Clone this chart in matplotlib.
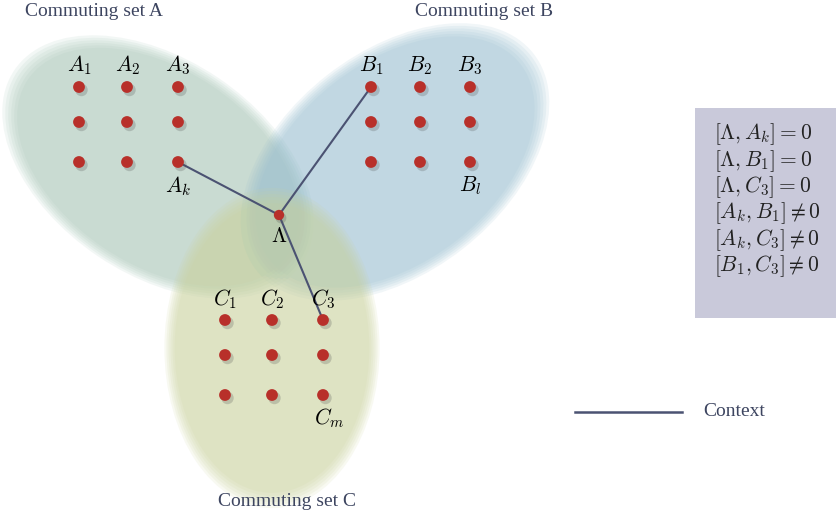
import matplotlib.pyplot as plt
import numpy as np
from matplotlib.patches import Ellipse, Rectangle

plt.rcParams['mathtext.fontset'] = 'cm'
serif = ['Liberation Serif', 'DejaVu Serif']

# dot grids of the three commuting sets (pixel coords, y down)
a_x = [79, 127, 178]
a_y = [87, 122, 162]
b_x = [371, 420, 470]
b_y = [87, 122, 162]
c_x = [225, 272, 323]
c_y = [320, 355, 395]
lam = (279, 215)

a_labels = ['$A_1$', '$A_2$', '$A_3$']
b_labels = ['$B_1$', '$B_2$', '$B_3$']
c_labels = ['$C_1$', '$C_2$', '$C_3$']

relations = [r'$[\Lambda, A_k] = 0$', r'$[\Lambda, B_1] = 0$', r'$[\Lambda, C_3] = 0$',
             r'$[A_k, B_1] \neq 0$', r'$[A_k, C_3] \neq 0$', r'$[B_1, C_3] \neq 0$']
rel_y = [134, 161, 187, 213, 240, 266]

fig = plt.figure(figsize=(8.36, 5.21), dpi=100)
ax = fig.add_axes([0, 0, 1, 1])
ax.set_xlim(0, 836)
ax.set_ylim(521, 0)
ax.axis('off')


def soft_ellipse(xy, w, h, ang, col, z):
    # a few stacked ellipses to fake a soft edge
    for s in np.linspace(1.05, 0.95, 6):
        ax.add_patch(Ellipse(xy, w * s, h * s, angle=ang, facecolor=col,
                             edgecolor='none', alpha=0.13, zorder=z))


soft_ellipse((158, 167), 330, 205, 34, '#a2c2b4', 1)
soft_ellipse((395, 162), 335, 210, -38, '#94bccf', 1)
soft_ellipse((272, 348), 205, 305, 0, '#c9d29a', 1)

# context lines
for p in [(a_x[2], a_y[2]), (b_x[0], b_y[0]), (c_x[2], c_y[0])]:
    ax.plot([lam[0], p[0]], [lam[1], p[1]], color='#4b5272', lw=1.5, zorder=3)


def dots(xs, ys):
    X, Y = np.meshgrid(xs, ys)
    ax.scatter(X.ravel() + 2.5, Y.ravel() + 3, s=80, color='#555555', alpha=0.25,
               edgecolors='none', zorder=4)
    ax.scatter(X.ravel(), Y.ravel(), s=72, color='#b8302a', edgecolors='none', zorder=5)


dots(a_x, a_y)
dots(b_x, b_y)
dots(c_x, c_y)
ax.scatter([lam[0] + 2], [lam[1] + 3], s=60, color='#555555', alpha=0.25, edgecolors='none', zorder=4)
ax.scatter([lam[0]], [lam[1]], s=55, color='#b8302a', edgecolors='none', zorder=5)

fs = 15.5
for x, t in zip(a_x, a_labels):
    ax.text(x, a_y[0] - 10, t, ha='center', va='bottom', fontsize=fs, zorder=6)
for x, t in zip(b_x, b_labels):
    ax.text(x, b_y[0] - 10, t, ha='center', va='bottom', fontsize=fs, zorder=6)
for x, t in zip(c_x, c_labels):
    ax.text(x, c_y[0] - 9, t, ha='center', va='bottom', fontsize=fs, zorder=6)
ax.text(a_x[2], a_y[2] + 12, '$A_k$', ha='center', va='top', fontsize=fs, zorder=6)
ax.text(b_x[2], b_y[2] + 12, '$B_l$', ha='center', va='top', fontsize=fs, zorder=6)
ax.text(c_x[2] + 6, c_y[2] + 11, '$C_m$', ha='center', va='top', fontsize=fs, zorder=6)
ax.text(lam[0], lam[1] + 11, r'$\Lambda$', ha='center', va='top', fontsize=fs, zorder=6)

tc = '#3d4560'
ax.text(25, 11, 'Commuting set A', fontsize=14, color=tc, family=serif, va='center')
ax.text(415, 11, 'Commuting set B', fontsize=14, color=tc, family=serif, va='center')
ax.text(218, 502, 'Commuting set C', fontsize=14, color=tc, family=serif, va='center')

# relations box
ax.add_patch(Rectangle((695, 108), 141, 210, facecolor='#c9c9da', edgecolor='none', zorder=1))
for y, t in zip(rel_y, relations):
    ax.text(714, y, t, fontsize=15.5, va='center', ha='left', color='#222222', zorder=6)

# legend
ax.plot([575, 682], [412, 412], color='#4b5272', lw=1.8)
ax.text(703, 412, 'Context', fontsize=14, color=tc, family=serif, va='center')

fig.savefig('out.png', dpi=100)
